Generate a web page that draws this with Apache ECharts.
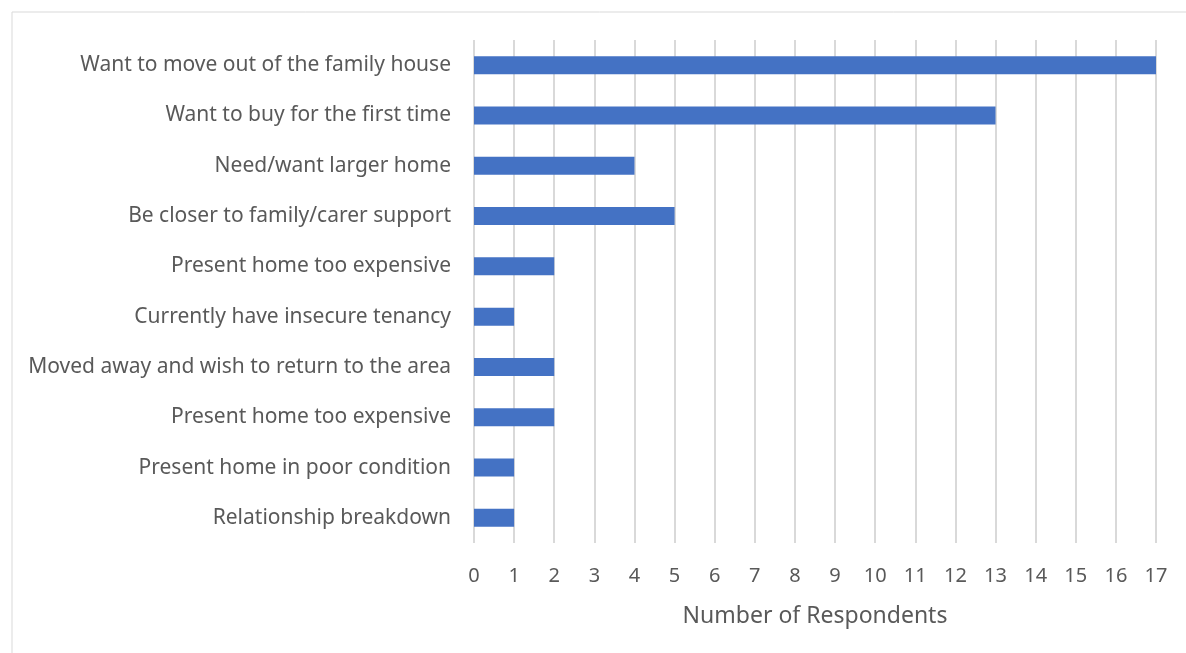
<!DOCTYPE html>
<html>
<head>
<meta charset="utf-8">
<script src="https://cdn.jsdelivr.net/npm/echarts@6/dist/echarts.min.js"></script>
<style>
  html, body { margin: 0; padding: 0; background: #fff; }
  #chart { width: 1186px; height: 653px; }
</style>
</head>
<body>
<div id="chart"></div>
<script>
// Reasons given for needing to move, top to bottom
const reasons = [
  'Want to move out of the family house',
  'Want to buy for the first time',
  'Need/want larger home',
  'Be closer to family/carer support',
  'Present home too expensive',
  'Currently have insecure tenancy',
  'Moved away and wish to return to the area',
  'Present home too expensive',
  'Present home in poor condition',
  'Relationship breakdown'
];
const respondents = [17, 13, 4, 5, 2, 1, 2, 2, 1, 1];
const axisTitle = 'Number of Respondents';

const textColor = '#595959';
const fontFamily = '"Noto Sans", "Open Sans", sans-serif';

const chart = echarts.init(document.getElementById('chart'));
chart.setOption({
  animation: false,
  backgroundColor: '#ffffff',
  graphic: [{
    type: 'rect',
    left: 9.5, top: 9.5,
    shape: { width: 1200, height: 700 },
    style: { fill: 'none', stroke: '#d9d9d9', lineWidth: 1 },
    silent: true
  }],
  grid: { left: 474, right: 30, top: 40, bottom: 110, containLabel: false },
  xAxis: {
    type: 'value',
    min: 0, max: 17, interval: 1,
    name: axisTitle,
    nameLocation: 'middle',
    nameGap: 62,
    nameTextStyle: { color: textColor, fontSize: 23, fontFamily },
    axisLine: { show: false },
    axisTick: { show: false },
    axisLabel: { color: textColor, fontSize: 20, fontFamily, margin: 23 },
    splitLine: { show: true, lineStyle: { color: '#d9d9d9', width: 2 } }
  },
  yAxis: {
    type: 'category',
    data: reasons,
    inverse: true,
    axisLine: { show: false },
    axisTick: { show: false },
    axisLabel: { color: textColor, fontSize: 21, fontFamily, margin: 23 }
  },
  series: [{
    type: 'bar',
    data: respondents,
    barWidth: 18,
    itemStyle: { color: '#4472C4' }
  }]
});
</script>
</body>
</html>
